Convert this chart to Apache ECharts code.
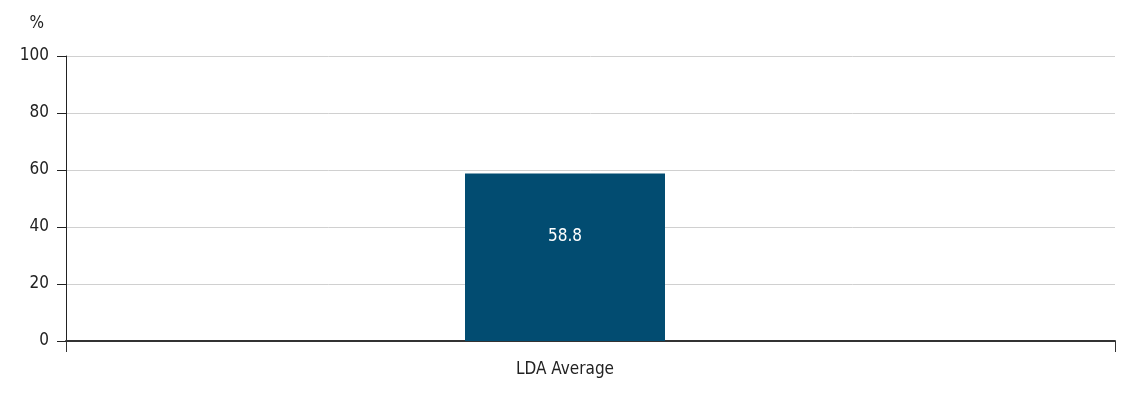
<!DOCTYPE html>
<html>
<head>
<meta charset="utf-8">
<script src="https://cdn.jsdelivr.net/npm/echarts@6/dist/echarts.min.js"></script>
<style>
  html, body { margin: 0; padding: 0; background: #fff; }
  #chart { width: 1136px; height: 398px; }
</style>
</head>
<body>
<div id="chart"></div>
<script>
var categories = ["LDA Average"];
var values = [58.8];
var yTicks = { min: 0, max: 100, step: 20 };

var font = "'Liberation Sans Narrow', 'DejaVu Sans Condensed', sans-serif";

var myChart = echarts.init(document.getElementById("chart"));

var option = {
    animation: false,
    textStyle: { fontFamily: font },
    // grid 0 carries the frame, grid 1 the bar (slightly left of centre as in the source)
    grid: [
        { left: 66, right: 21, top: 56, bottom: 57 },
        { left: 66, right: 72, top: 56, bottom: 57 }
    ],
    xAxis: [{
        gridIndex: 0,
        type: "category",
        data: [""],
        axisLine: { lineStyle: { color: "#333", width: 2 } },
        axisTick: { show: true, length: 11, lineStyle: { color: "#333", width: 1 } },
        axisLabel: { show: false }
    }, {
        gridIndex: 1,
        type: "category",
        data: categories,
        axisLine: { show: false },
        axisTick: { show: false },
        axisLabel: { color: "#222", fontSize: 17, fontFamily: font, margin: 20 }
    }],
    yAxis: [{
        gridIndex: 0,
        type: "value",
        min: yTicks.min,
        max: yTicks.max,
        interval: yTicks.step,
        name: "%",
        nameLocation: "end",
        nameGap: 24,
        nameTextStyle: { color: "#222", fontSize: 17, fontFamily: font, align: "right", padding: [0, 22, 0, 0] },
        axisLine: { show: true, lineStyle: { color: "#222", width: 1 } },
        axisTick: { show: true, inside: false, length: 9, lineStyle: { color: "#222" } },
        axisLabel: { color: "#222", fontSize: 17, fontFamily: font, margin: 17 },
        splitLine: { lineStyle: { color: "#d0d0d0", width: 1 } }
    }, {
        gridIndex: 1,
        type: "value",
        min: yTicks.min,
        max: yTicks.max,
        interval: yTicks.step,
        show: false
    }],
    series: [{
        type: "bar",
        xAxisIndex: 1,
        yAxisIndex: 1,
        data: values,
        barWidth: 200,
        itemStyle: { color: "#024c71" },
        label: {
            show: true,
            position: ["50%", 63],
            align: "center",
            verticalAlign: "middle",
            color: "#fff",
            fontSize: 17,
            fontFamily: font,
            formatter: function (p) { return p.value.toFixed(1); }
        }
    }]
};
myChart.setOption(option);
</script>
</body>
</html>
